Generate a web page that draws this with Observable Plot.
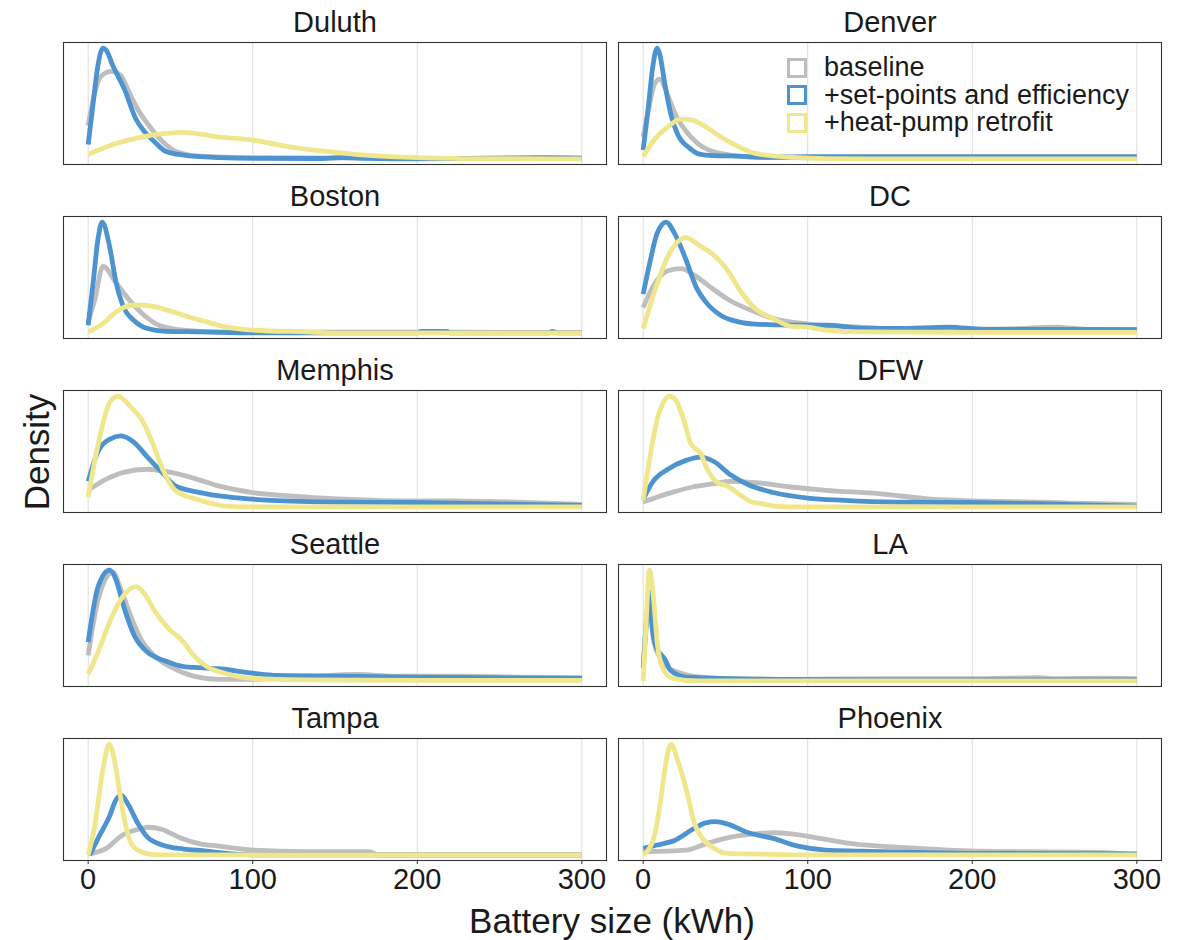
<!DOCTYPE html>
<html>
<head>
<meta charset="utf-8">
<script src="https://cdn.jsdelivr.net/npm/d3@7"></script>
<script src="https://cdn.jsdelivr.net/npm/@observablehq/plot@0.6"></script>
<style>
  body { margin: 0; background: #fff; font-family: "Liberation Sans", Arial, sans-serif; }
  #wrap { position: relative; width: 1178px; height: 940px; }
  #ylab { position: absolute; left: 36px; top: 452px; transform: translate(-50%, -50%) rotate(-90deg); font-size: 35px; line-height: 1; color: #1a1a1a; white-space: nowrap; }
  #xlab { position: absolute; left: 612px; top: 920px; transform: translate(-50%, -50%); font-size: 35px; line-height: 1; color: #1a1a1a; white-space: nowrap; }
  #legend { position: absolute; left: 787px; top: 54px; font-size: 27px; line-height: 1; color: #1a1a1a; }
  .item { display: flex; align-items: center; height: 27.5px; line-height: 1; }
  .item span { line-height: 1; }
  .key { width: 14px; height: 14px; border: 3.5px solid; margin-right: 17px; box-sizing: content-box; }
</style>
</head>
<body>
<div id="wrap"></div>
<script>
// ---- data (density scaled so each panel's highest curve = 1) ----
const series = ["baseline", "+set-points and efficiency", "+heat-pump retrofit"];
const seriesColors = ["#bebebe", "#4d93d0", "#f0e68c"];
const cities = ["Duluth", "Denver", "Boston", "DC", "Memphis", "DFW", "Seattle", "LA", "Tampa", "Phoenix"];
const xTicks = [0, 100, 200, 300];

// [battery size kWh, relative density]
const duluth = {
  baseline: [[0,0.3],[4,0.6],[7,0.73],[11,0.78],[14,0.79],[20,0.75],[24,0.63],[30,0.45],[37,0.3],[45,0.16],[53,0.07],[68,0.025],[100,0.012],[150,0.01],[200,0.006],[250,0.004],[300,0.003]],
  setpoints: [[0,0.13],[3,0.5],[6,0.85],[9,1.0],[11,0.98],[15,0.84],[22,0.63],[29,0.36],[34,0.25],[40,0.16],[47,0.07],[58,0.035],[80,0.012],[100,0.005],[140,0.004],[155,0.012],[170,0.005],[195,0.0],[230,0.004],[260,0.01],[280,0.012],[300,0.008]],
  heatpump: [[0,0.04],[15,0.13],[30,0.19],[47,0.23],[58,0.24],[79,0.2],[100,0.17],[122,0.11],[143,0.07],[164,0.04],[196,0.015],[240,0.003],[300,0.0]]
};
const denver = {
  baseline: [[0,0.2],[4,0.5],[7,0.68],[10,0.72],[15,0.57],[20,0.39],[26,0.25],[34,0.13],[47,0.05],[68,0.015],[100,0.01],[200,0.01],[300,0.01]],
  setpoints: [[0,0.08],[3,0.45],[6,0.85],[8.5,1.0],[10,0.95],[13,0.69],[17,0.39],[21,0.22],[28,0.1],[34,0.044],[43,0.03],[58,0.025],[73,0.015],[100,0.02],[150,0.02],[200,0.02],[250,0.02],[300,0.02]],
  heatpump: [[0,0.02],[6,0.16],[15,0.29],[23,0.36],[30,0.35],[38,0.29],[47,0.2],[58,0.11],[68,0.05],[90,0.015],[132,0.0],[300,0.0]]
};
const boston = {
  baseline: [[0,0.1],[4,0.3],[9,0.6],[17,0.45],[26,0.28],[34,0.16],[43,0.07],[58,0.025],[79,0.01],[150,0.008],[300,0.005]],
  setpoints: [[0,0.07],[3,0.45],[6,0.85],[8.5,1.0],[13,0.78],[17,0.45],[21,0.25],[28,0.11],[36,0.04],[47,0.015],[68,0.01],[100,0.0],[200,0.0],[202,0.015],[218,0.015],[220,0.0],[280,0.0],[282,0.015],[286,0.0],[300,0.0]],
  heatpump: [[0,0.01],[8.5,0.08],[17,0.19],[26,0.25],[34,0.25],[45,0.22],[58,0.16],[72,0.1],[85,0.05],[100,0.025],[132,0.01],[154,0.0],[300,0.0]]
};
const dc = {
  baseline: [[0,0.23],[6,0.42],[15,0.56],[23,0.58],[32,0.51],[43,0.39],[53,0.29],[68,0.19],[79,0.13],[100,0.08],[132,0.053],[164,0.033],[196,0.033],[228,0.04],[250,0.053],[270,0.033],[300,0.03]],
  setpoints: [[0,0.35],[4,0.63],[8.5,0.9],[14,1.0],[19,0.9],[26,0.66],[32,0.42],[38,0.28],[47,0.16],[58,0.1],[68,0.08],[90,0.07],[111,0.07],[132,0.044],[154,0.04],[186,0.053],[207,0.033],[239,0.033],[300,0.03]],
  heatpump: [[0,0.04],[6,0.33],[15,0.69],[26,0.86],[34,0.79],[43,0.7],[51,0.57],[60,0.36],[68,0.22],[79,0.13],[90,0.06],[100,0.053],[111,0.024],[132,0.01],[200,0.005],[300,0.005]]
};
const memphis = {
  baseline: [[0,0.15],[11,0.25],[21,0.31],[36,0.34],[47,0.32],[64,0.26],[79,0.19],[100,0.13],[122,0.1],[143,0.08],[175,0.06],[196,0.055],[228,0.053],[260,0.044],[300,0.023]],
  setpoints: [[0,0.23],[6,0.5],[13,0.61],[20,0.64],[28,0.58],[36,0.45],[45,0.31],[53,0.19],[68,0.13],[85,0.09],[111,0.06],[154,0.044],[196,0.04],[239,0.03],[300,0.015]],
  heatpump: [[0,0.09],[6,0.56],[13,0.94],[18,1.0],[26,0.9],[34,0.75],[39,0.58],[45,0.35],[53,0.15],[68,0.06],[85,0.006],[100,0.0],[300,0.0]]
};
const dfw = {
  baseline: [[0,0.044],[15,0.12],[30,0.18],[43,0.21],[53,0.23],[68,0.22],[90,0.18],[111,0.15],[143,0.12],[175,0.07],[207,0.053],[239,0.044],[260,0.035],[300,0.023]],
  setpoints: [[0,0.07],[6,0.23],[15,0.34],[26,0.42],[35,0.45],[43,0.41],[53,0.29],[64,0.2],[79,0.13],[100,0.08],[122,0.06],[154,0.044],[196,0.04],[239,0.03],[300,0.006]],
  heatpump: [[0,0.06],[4,0.44],[8.5,0.79],[13,0.96],[16,1.0],[20,0.96],[24.5,0.79],[29,0.57],[35,0.48],[39,0.34],[45,0.22],[51,0.19],[58,0.12],[66,0.044],[72,0.03],[81,0.006],[100,0.0],[300,0.0]]
};
const seattle = {
  baseline: [[0,0.23],[6,0.73],[15,0.98],[20,0.82],[26,0.58],[32,0.38],[40,0.23],[51,0.12],[64,0.044],[79,0.015],[100,0.015],[132,0.035],[164,0.058],[186,0.044],[228,0.044],[260,0.035],[300,0.03]],
  setpoints: [[0,0.35],[6,0.85],[13,1.0],[17,0.91],[21,0.7],[28,0.41],[36,0.26],[47,0.18],[58,0.13],[68,0.12],[79,0.11],[100,0.07],[115,0.05],[154,0.044],[196,0.035],[239,0.03],[300,0.023]],
  heatpump: [[0,0.06],[6,0.26],[13,0.53],[21,0.76],[29,0.85],[34,0.79],[40,0.64],[49,0.47],[58,0.35],[64,0.23],[72,0.13],[83,0.07],[100,0.023],[132,0.01],[200,0.005],[300,0.005]]
};
const la = {
  baseline: [[0,0.12],[2,0.5],[4,0.75],[6.5,0.35],[13,0.15],[19,0.09],[30,0.044],[47,0.023],[90,0.015],[154,0.02],[200,0.02],[240,0.03],[250,0.02],[280,0.025],[300,0.02]],
  setpoints: [[0,0.12],[2,0.55],[4,0.8],[5.3,0.5],[8,0.3],[13,0.2],[17,0.09],[26,0.035],[47,0.023],[79,0.015],[150,0.01],[300,0.01]],
  heatpump: [[0,0.0],[1.7,0.5],[3.8,1.0],[6.4,0.73],[8.5,0.35],[11.7,0.12],[17,0.03],[26,0.006],[40,0.0],[300,0.0]]
};
const tampa = {
  baseline: [[0,0.01],[11,0.06],[21,0.18],[30,0.23],[36,0.25],[45,0.23],[55,0.16],[68,0.1],[79,0.08],[90,0.06],[100,0.044],[132,0.03],[171,0.03],[176,0.0],[300,0.0]],
  setpoints: [[1,0.0],[6,0.15],[13,0.35],[17,0.5],[20,0.54],[24.5,0.45],[30,0.29],[36,0.16],[45,0.09],[58,0.053],[72,0.035],[80,0.02],[100,0.0],[300,0.0]],
  heatpump: [[0,0.0],[4,0.26],[8.5,0.73],[12.8,1.0],[16,0.85],[19,0.58],[22.4,0.29],[26.7,0.09],[32,0.03],[38,0.006],[50,0.0],[300,0.0]]
};
const phoenix = {
  baseline: [[0,0.03],[26,0.044],[38,0.1],[53,0.16],[68,0.19],[79,0.2],[90,0.19],[107,0.15],[128,0.1],[154,0.07],[186,0.044],[218,0.03],[277,0.023],[300,0.0]],
  setpoints: [[0,0.06],[8.5,0.09],[19,0.13],[30,0.23],[38,0.29],[44,0.3],[51,0.28],[64,0.2],[79,0.15],[94,0.08],[111,0.044],[132,0.035],[164,0.023],[196,0.015],[300,0.01]],
  heatpump: [[0,0.0],[6.4,0.15],[10.7,0.5],[14,0.85],[17,1.0],[21,0.85],[26.7,0.56],[31,0.29],[36,0.15],[43,0.06],[51,0.015],[79,0.006],[100,0.0],[300,0.0]]
};
const cityData = [duluth, denver, boston, dc, memphis, dfw, seattle, la, tampa, phoenix];
const seriesKeys = ["baseline", "setpoints", "heatpump"];

// ---- tidy table built from the arrays ----
const panels = cities.map((city, i) => ({city, col: i % 2, row: Math.floor(i / 2)}));
const rows = [];
cityData.forEach((d, i) => {
  seriesKeys.forEach((k, s) => {
    d[k].forEach(([x, y]) => rows.push({city: cities[i], col: i % 2, row: Math.floor(i / 2), series: series[s], x, y}));
  });
});

const lineFor = (s) => Plot.line(rows.filter(r => r.series === series[s]), {
  x: "x", y: "y", fx: "col", fy: "row", z: "city",
  stroke: seriesColors[s], strokeWidth: 4.8, curve: "monotone-x",
  strokeLinejoin: "round", strokeLinecap: "butt"
});

const chart = Plot.plot({
  width: 1178,
  height: 940,
  marginLeft: 63,
  marginRight: 16,
  marginTop: 40,
  marginBottom: 77,
  style: {fontFamily: "'Liberation Sans', Arial, sans-serif", background: "#fff", color: "#1a1a1a"},
  x: {domain: [-15, 315], label: null},
  y: {domain: [-0.05, 1.05], axis: null},
  fx: {domain: [0, 1], axis: null, paddingInner: 0.0216, paddingOuter: 0},
  fy: {domain: [0, 1, 2, 3, 4], axis: null, paddingInner: 0.297, paddingOuter: 0},
  marks: [
    Plot.gridX(xTicks, {stroke: "#e0e0e0", strokeOpacity: 1, strokeWidth: 1.1}),
    lineFor(0),
    lineFor(1),
    lineFor(2),
    Plot.frame({stroke: "#333", strokeWidth: 1.1}),
    Plot.text(panels, {fx: "col", fy: "row", text: "city", frameAnchor: "top", lineAnchor: "middle", dy: -20, fontSize: 29, fill: "#1a1a1a"}),
    Plot.axisX(xTicks, {tickSize: 4, tickPadding: 4, fontSize: 29, stroke: "#333", fill: "#1a1a1a", label: null})
  ]
});

const wrap = document.getElementById("wrap");
wrap.appendChild(chart);

const ylab = document.createElement("div");
ylab.id = "ylab"; ylab.textContent = "Density";
wrap.appendChild(ylab);
const xlab = document.createElement("div");
xlab.id = "xlab"; xlab.textContent = "Battery size (kWh)";
wrap.appendChild(xlab);

const legend = document.createElement("div");
legend.id = "legend";
series.forEach((s, i) => {
  const item = document.createElement("div");
  item.className = "item";
  const key = document.createElement("span");
  key.className = "key";
  key.style.borderColor = seriesColors[i];
  const label = document.createElement("span");
  label.textContent = s;
  item.appendChild(key); item.appendChild(label);
  legend.appendChild(item);
});
wrap.appendChild(legend);
</script>
</body>
</html>
